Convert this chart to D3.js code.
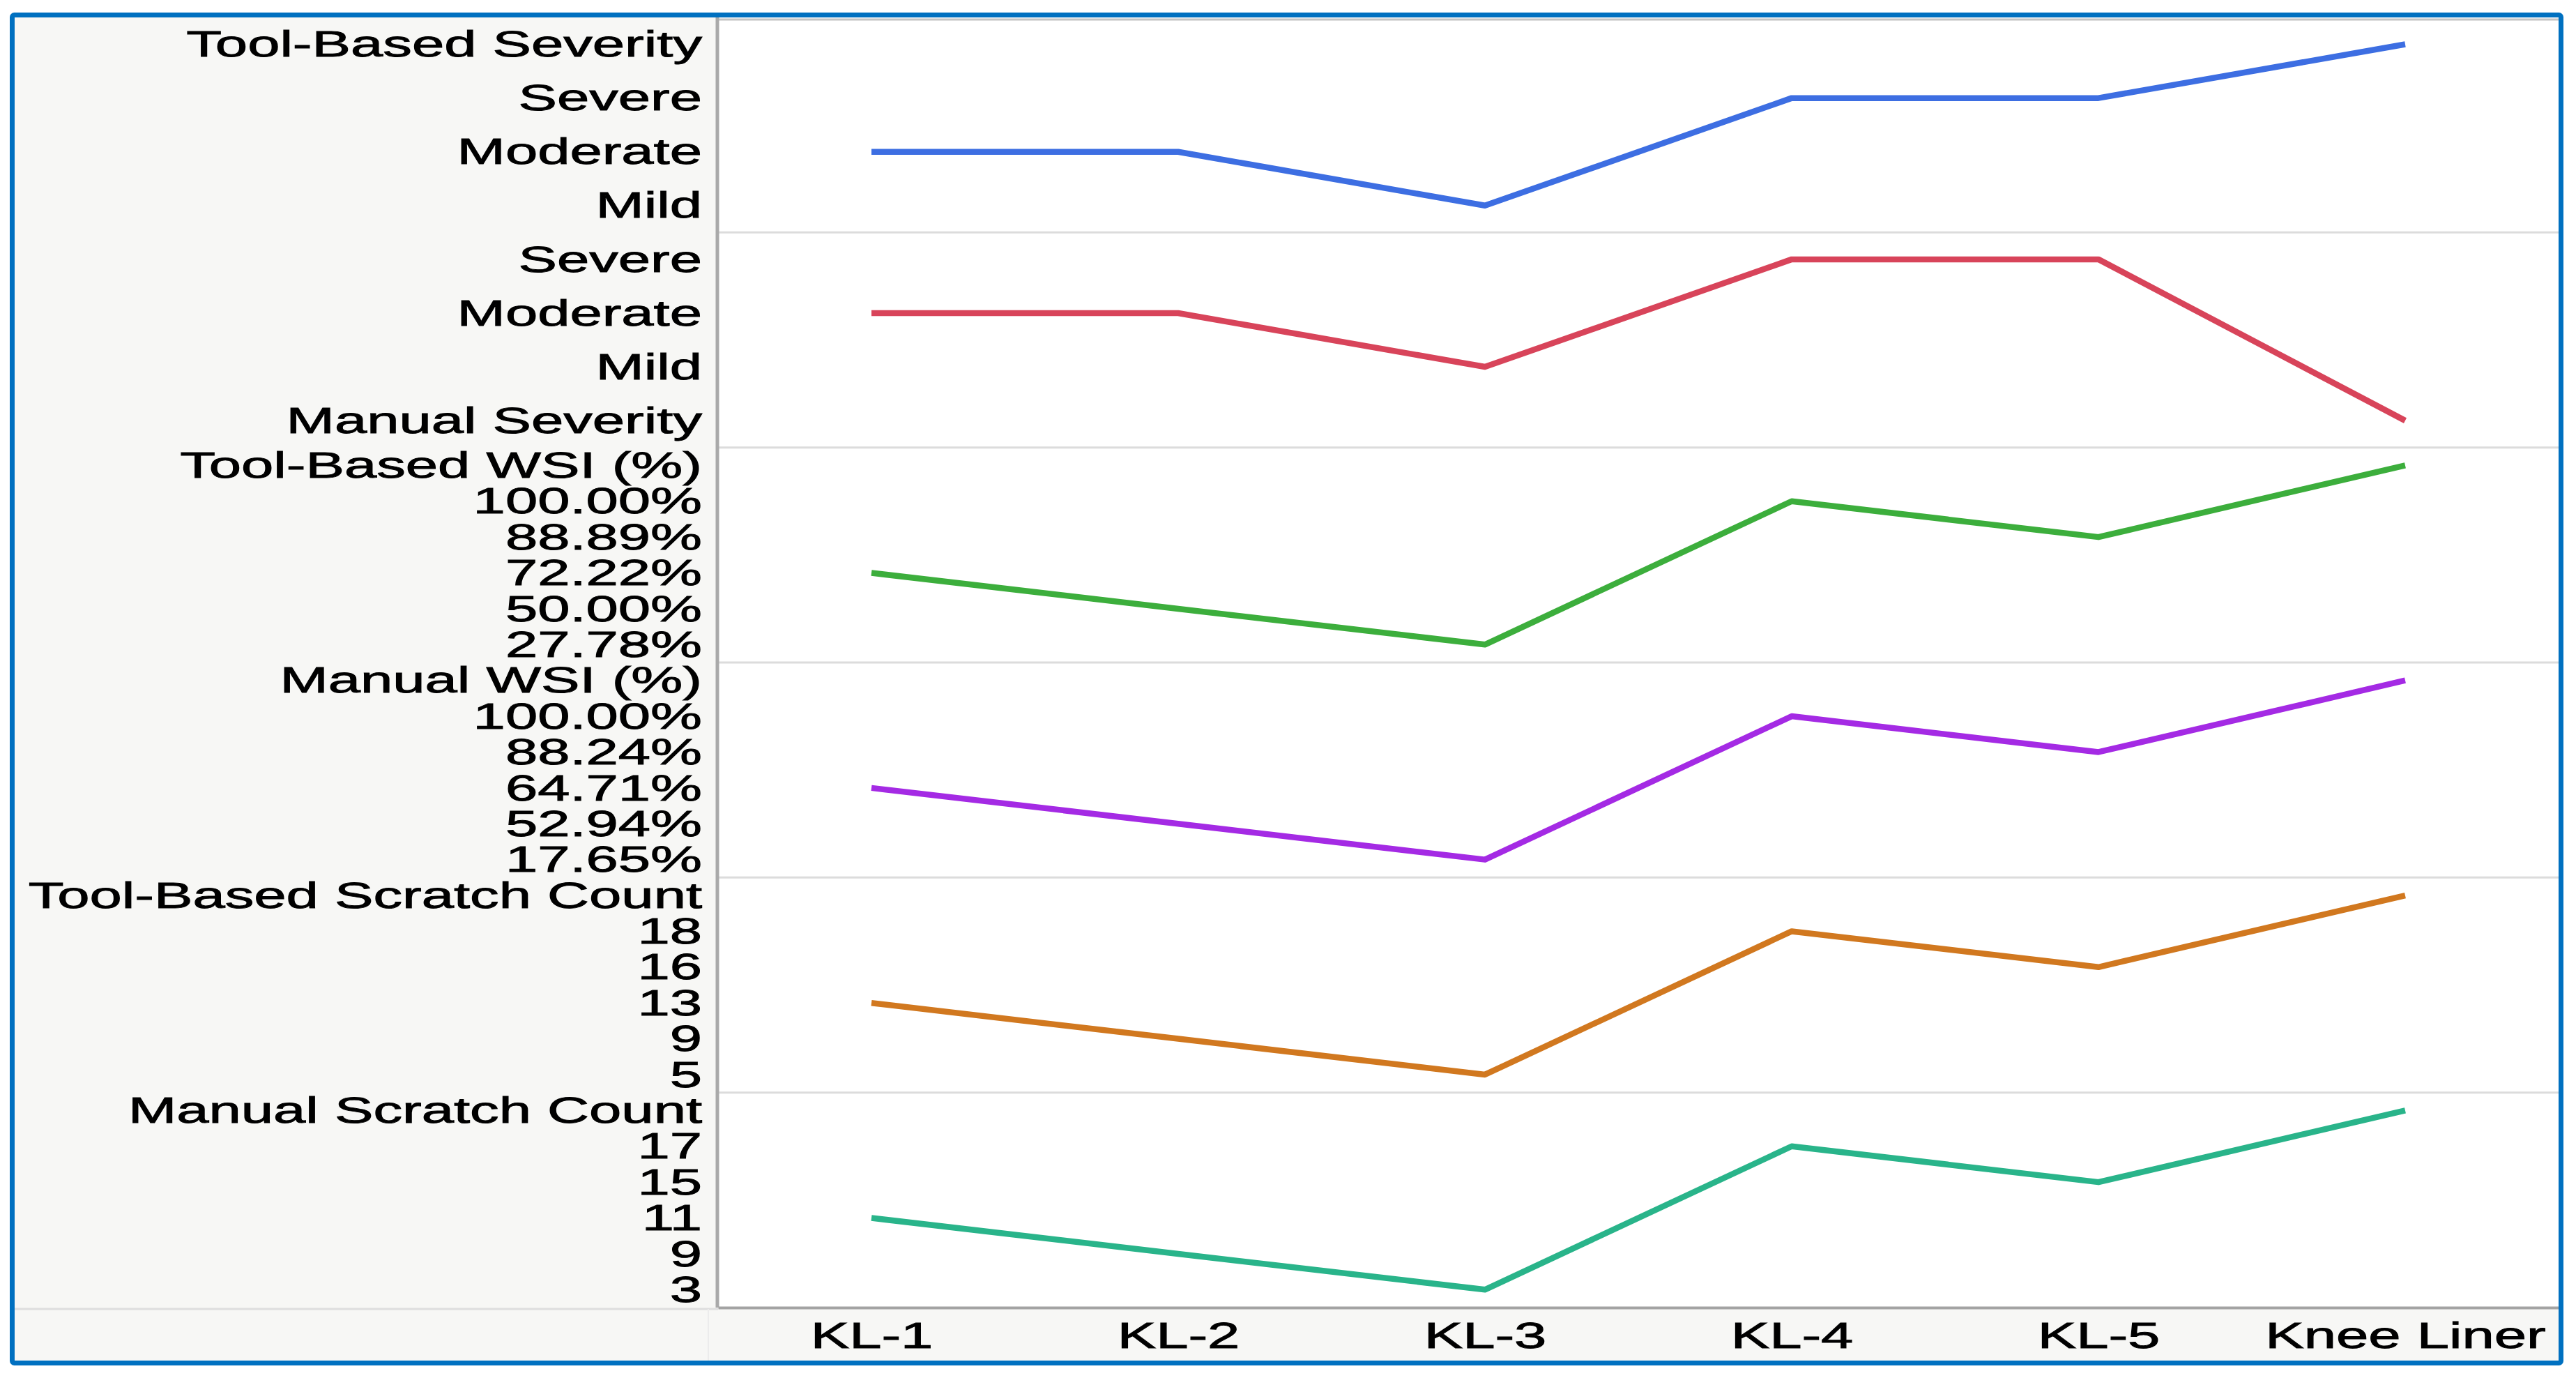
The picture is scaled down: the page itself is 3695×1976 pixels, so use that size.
<!DOCTYPE html>
<html>
<head>
<meta charset="utf-8">
<script src="https://cdn.jsdelivr.net/npm/d3@7"></script>
<style>
  html, body { margin: 0; padding: 0; background: #ffffff; }
  svg { display: block; }
  text { font-family: "Liberation Sans", Arial, Helvetica, sans-serif; fill: #000; }
</style>
</head>
<body>
<svg id="chart" width="3695" height="1976"></svg>
<script>
// ---------------- DATA ----------------
const categories = ["KL-1", "KL-2", "KL-3", "KL-4", "KL-5", "Knee Liner"];

const seriesNames = [
  "Tool-Based Severity", "Manual Severity", "Tool-Based WSI (%)",
  "Manual WSI (%)", "Tool-Based Scratch Count", "Manual Scratch Count"
];

// Category levels of each band, top to bottom (as shown on the axis)
const toolSeverityLevels   = ["Tool-Based Severity", "Severe", "Moderate", "Mild"];
const manualSeverityLevels = ["Severe", "Moderate", "Mild", "Manual Severity"];
const toolWsiLevels        = ["Tool-Based WSI (%)", "100.00%", "88.89%", "72.22%", "50.00%", "27.78%"];
const manualWsiLevels      = ["Manual WSI (%)", "100.00%", "88.24%", "64.71%", "52.94%", "17.65%"];
const toolScratchLevels    = ["Tool-Based Scratch Count", "18", "16", "13", "9", "5"];
const manualScratchLevels  = ["Manual Scratch Count", "17", "15", "11", "9", "3"];

// Values per category (KL-1 .. Knee Liner)
const toolSeverityValues   = ["Moderate", "Moderate", "Mild", "Severe", "Severe", "Tool-Based Severity"];
const manualSeverityValues = ["Moderate", "Moderate", "Mild", "Severe", "Severe", "Manual Severity"];
const toolWsiValues        = ["72.22%", "50.00%", "27.78%", "100.00%", "88.89%", "Tool-Based WSI (%)"];
const manualWsiValues      = ["64.71%", "52.94%", "17.65%", "100.00%", "88.24%", "Manual WSI (%)"];
const toolScratchValues    = ["13", "9", "5", "18", "16", "Tool-Based Scratch Count"];
const manualScratchValues  = ["11", "9", "3", "17", "15", "Manual Scratch Count"];

const seriesColors = ["#3d6ee2", "#d8445a", "#3cae3c", "#a42ae4", "#d1781f", "#29b48a"];

// ---------------- LAYOUT ----------------
const frame = { x0: 21, y0: 25, x1: 3670, y1: 1951 };
const plot  = { x0: 1030, x1: 3670, y0: 25, y1: 1875 };
const TEXT_SX = 1.6;      // horizontal stretch of the reference's text
const FONT = 52;

const bands = [
  { name: seriesNames[0], levels: toolSeverityLevels,   values: toolSeverityValues,   color: seriesColors[0] },
  { name: seriesNames[1], levels: manualSeverityLevels, values: manualSeverityValues, color: seriesColors[1] },
  { name: seriesNames[2], levels: toolWsiLevels,        values: toolWsiValues,        color: seriesColors[2] },
  { name: seriesNames[3], levels: manualWsiLevels,      values: manualWsiValues,      color: seriesColors[3] },
  { name: seriesNames[4], levels: toolScratchLevels,    values: toolScratchValues,    color: seriesColors[4] },
  { name: seriesNames[5], levels: manualScratchLevels,  values: manualScratchValues,  color: seriesColors[5] }
];

const svg = d3.select("#chart");

const x = d3.scalePoint().domain(categories).range([plot.x0, plot.x1]).padding(0.5);
const bandScale = d3.scaleBand().domain(seriesNames).range([plot.y0, plot.y1]).paddingInner(0).paddingOuter(0);

// backgrounds
svg.append("rect").attr("x", frame.x0).attr("y", frame.y0)
  .attr("width", frame.x1 - frame.x0).attr("height", frame.y1 - frame.y0)
  .attr("fill", "#f7f7f5");
svg.append("rect").attr("x", plot.x0).attr("y", frame.y0)
  .attr("width", plot.x1 - plot.x0).attr("height", plot.y1 - frame.y0)
  .attr("fill", "#ffffff");

// top gray line of plot
svg.append("line").attr("x1", plot.x0).attr("x2", plot.x1)
  .attr("y1", 28).attr("y2", 28).attr("stroke", "#c4c4c4").attr("stroke-width", 3);

// band separators
bands.slice(1).forEach(b => {
  const yy = bandScale(b.name);
  svg.append("line").attr("x1", plot.x0).attr("x2", plot.x1)
    .attr("y1", yy).attr("y2", yy)
    .attr("stroke", "#dcdcdc").attr("stroke-width", 3);
});

// left-panel bottom separator and faint vertical in the corner
svg.append("line").attr("x1", frame.x0).attr("x2", plot.x0)
  .attr("y1", plot.y1 + 2).attr("y2", plot.y1 + 2)
  .attr("stroke", "#dedede").attr("stroke-width", 3);
svg.append("line").attr("x1", 1016).attr("x2", 1016)
  .attr("y1", plot.y1 + 2).attr("y2", frame.y1)
  .attr("stroke", "#ececec").attr("stroke-width", 2);

function styleText(sel) {
  sel.attr("font-size", FONT)
    .attr("font-family", '"Liberation Sans", Arial, sans-serif')
    .attr("fill", "#000")
    .attr("stroke", "#000")
    .attr("stroke-width", 0.9)
    .attr("transform", `scale(${TEXT_SX},1)`);
}

// per-band y axes and lines
bands.forEach(b => {
  const top = bandScale(b.name);
  const y = d3.scalePoint().domain(b.levels)
    .range([top, top + bandScale.bandwidth()]).padding(0.5);

  const ax = svg.append("g")
    .attr("transform", `translate(${plot.x0},0)`)
    .call(d3.axisLeft(y).tickSize(0).tickPadding(0));
  ax.select(".domain").remove();
  ax.selectAll(".tick text")
    .call(styleText)
    .attr("text-anchor", "end")
    .attr("x", -23 / TEXT_SX)
    .attr("dy", "0.33em");

  const line = d3.line()
    .x((d, i) => x(categories[i]))
    .y(d => y(d));

  svg.append("path")
    .datum(b.values)
    .attr("d", line)
    .attr("fill", "none")
    .attr("stroke", b.color)
    .attr("stroke-width", 8.5)
    .attr("stroke-linejoin", "round")
    .attr("stroke-linecap", "butt");
});

// y-axis vertical line
svg.append("line").attr("x1", plot.x0 - 1).attr("x2", plot.x0 - 1)
  .attr("y1", frame.y0).attr("y2", plot.y1)
  .attr("stroke", "#a9a9a9").attr("stroke-width", 5);

// x axis
const xa = svg.append("g")
  .attr("transform", `translate(0,${plot.y1})`)
  .call(d3.axisBottom(x).tickSize(0).tickPadding(0));
xa.select(".domain").attr("stroke", "#a3a3a3").attr("stroke-width", 4);
xa.selectAll(".tick text")
  .call(styleText)
  .attr("text-anchor", "middle")
  .attr("y", 58)
  .attr("dy", 0);

// blue frame
svg.append("rect")
  .attr("x", 17.5).attr("y", 21.5)
  .attr("width", 3656).attr("height", 1933)
  .attr("rx", 3)
  .attr("fill", "none")
  .attr("stroke", "#0070c0")
  .attr("stroke-width", 7);
</script>
</body>
</html>
